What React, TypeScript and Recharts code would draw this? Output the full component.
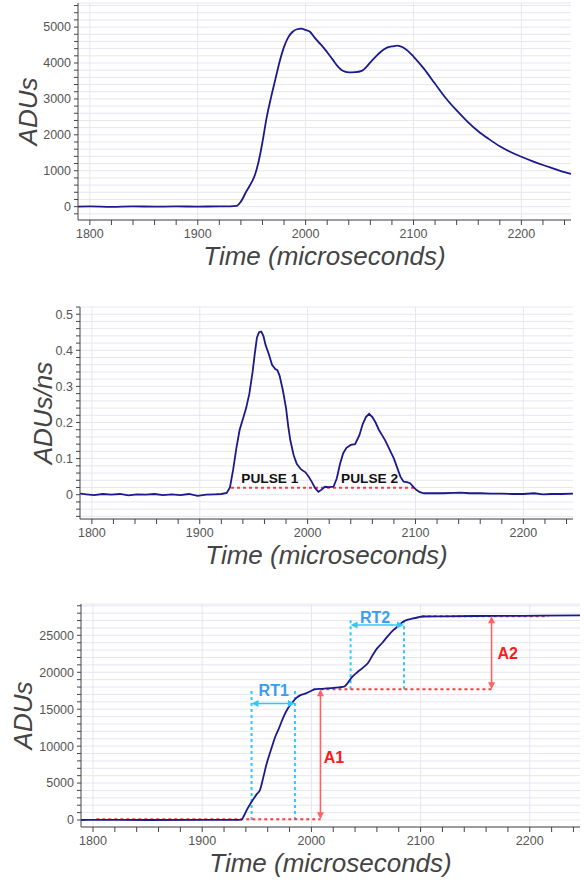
import {
  LineChart,
  Line,
  XAxis,
  YAxis,
  CartesianGrid,
  ReferenceLine,
  ReferenceDot,
} from 'recharts';

const FONT = '"Liberation Sans", Arial, Helvetica, sans-serif';
const NAVY = '#1a1a8c';
const GRID = '#e6e6f0';
const AXIS = '#444';
const RED_DOT = '#ff3b3b';
const RED_ARROW = '#ff6262';
const CYAN = '#2ec8ff';
const RT_BLUE = '#3d9bf0';

// --- top panel: waveform (ADUs)
const waveTime = [
  1789, 1800, 1820, 1840, 1860, 1880, 1900, 1920, 1930, 1936, 1940, 1945, 1950, 1953,
  1956, 1958, 1960, 1964, 1968, 1972, 1976, 1980, 1984, 1988, 1992, 1996, 2000, 2004,
  2008, 2012, 2016, 2020, 2025, 2030, 2034, 2040, 2046, 2052, 2056, 2060, 2065, 2070,
  2075, 2080, 2085, 2090, 2095, 2100, 2110, 2120, 2130, 2140, 2150, 2160, 2170, 2180,
  2190, 2200, 2210, 2220, 2230, 2240, 2246,
];
const waveAdu = [
  0, 5, -5, 8, 0, 5, 3, 8, 10, 20, 140, 420, 680, 880,
  1200, 1480, 1800, 2500, 3050, 3550, 4050, 4450, 4720, 4870, 4940, 4955, 4920, 4870,
  4720, 4580, 4450, 4300, 4100, 3900, 3790, 3740, 3745, 3780, 3880, 4020, 4180, 4320,
  4420, 4460, 4485, 4440, 4330, 4180, 3830, 3420, 3020, 2680, 2370, 2100, 1880, 1680,
  1520, 1390, 1270, 1160, 1060, 960, 910,
];

// --- middle panel: derivative (ADUs/ns)
const derivTime = [
  1789, 1795, 1802, 1810, 1818, 1826, 1834, 1842, 1850, 1858, 1866, 1874, 1882, 1890,
  1898, 1906, 1914, 1920, 1925, 1928, 1931, 1934, 1937, 1940, 1943, 1946, 1949, 1951,
  1953, 1955, 1957, 1959, 1961, 1964, 1967, 1970, 1972, 1974, 1977, 1980, 1982, 1984,
  1987, 1990, 1994, 1998, 2001, 2004, 2007, 2010, 2013, 2016, 2020, 2024, 2027, 2030,
  2033, 2036, 2040, 2044, 2048, 2051, 2054, 2057, 2060, 2063, 2066, 2069, 2072, 2076,
  2080, 2083, 2086, 2089, 2092, 2095, 2098, 2101, 2104, 2108, 2115, 2125, 2135, 2142,
  2150, 2160, 2170, 2180, 2190, 2200, 2210, 2218, 2226, 2235, 2246,
];
const derivAdu = [
  0.003, 0.001, -0.001, 0.002, 0.0, 0.002, -0.002, 0.001, 0.0, 0.002, -0.001, 0.001, -0.001, 0.002,
  -0.003, 0.0, 0.001, 0.002, 0.005, 0.02, 0.07, 0.13, 0.18, 0.21, 0.24, 0.28, 0.34, 0.39,
  0.435, 0.45, 0.452, 0.44, 0.415, 0.39, 0.36, 0.348, 0.345, 0.33, 0.29, 0.24, 0.19, 0.15,
  0.11, 0.085, 0.07, 0.062, 0.05, 0.035, 0.018, 0.008, 0.014, 0.022, 0.021, 0.022, 0.045, 0.085,
  0.115, 0.13, 0.138, 0.14, 0.165, 0.195, 0.215, 0.224, 0.215, 0.2, 0.18, 0.165, 0.15, 0.125,
  0.1, 0.075, 0.05, 0.036, 0.035, 0.032, 0.022, 0.013, 0.007, 0.004, 0.004, 0.004, 0.005, 0.006,
  0.004, 0.004, 0.003, 0.003, 0.002, 0.002, 0.004, 0.001, 0.002, 0.002, 0.003,
];

// --- bottom panel: integral (ADUs)
const integTime = [
  1789, 1800, 1850, 1900, 1930, 1936, 1938, 1941, 1945, 1950, 1953, 1956, 1959, 1963,
  1967, 1970, 1974, 1978, 1982, 1986, 1990, 1995, 2000, 2003, 2010, 2018, 2025, 2030,
  2033, 2037, 2042, 2047, 2052, 2056, 2060, 2065, 2070, 2075, 2079, 2083, 2087, 2092,
  2098, 2102, 2120, 2150, 2180, 2210, 2246,
];
const integAdu = [
  0, 10, 0, 10, 20, 50, 500, 1400, 2400, 3500, 4100, 5800, 7600, 9500,
  11300, 12300, 13800, 15000, 15800, 16500, 16900, 17150, 17500, 17700, 17760, 17850, 17950, 18050,
  18500, 19300, 20000, 20600, 21300, 22300, 23200, 24000, 24900, 25700, 26200, 26750, 27050, 27250,
  27450, 27550, 27580, 27620, 27640, 27660, 27700,
];

// tick labels
const xLabelTicks = [1800, 1900, 2000, 2100, 2200];
const y1LabelTicks = [0, 1000, 2000, 3000, 4000, 5000];
const y2LabelTicks = [0, 0.1, 0.2, 0.3, 0.4, 0.5];
const y3LabelTicks = [0, 5000, 10000, 15000, 20000, 25000];

// annotation values
const pulseLevel = 0.0194;
const pulseStart = 1929;
const pulseEnd = 2099;
const pulseLabels = [
  { name: 'PULSE 1', t: 1965, v: 0.047 },
  { name: 'PULSE 2', t: 2057.5, v: 0.047 },
];
const baseLevel = 100;
const a1Level = 17700;
const a2Level = 27600;
const a1Time = 2008.3;
const a2Time = 2165;
const rt1 = { start: 1945.2, end: 1984.9, arrow: 15770, label: 17600 };
const rt2 = { start: 2035.9, end: 2084.8, arrow: 26400, label: 27450 };

const range = (a: number, b: number, step: number) => {
  const out: number[] = [];
  for (let i = 0; a + i * step <= b + step * 1e-6; i++) out.push(+(a + i * step).toFixed(6));
  return out;
};

const xTicks = range(1800, 2240, 20);
const y1Ticks = range(-200, 5600, 200);
const y2Ticks = range(-0.06, 0.52, 0.02);
const y3Ticks = range(0, 29000, 1000);

const zip = (t: number[], v: number[]) => t.map((x, i) => ({ t: x, v: v[i] }));
const waveData = zip(waveTime, waveAdu);
const derivData = zip(derivTime, derivAdu);
const integData = zip(integTime, integAdu);

const isLabel = (labels: number[]) => (v: number) => labels.some((l) => Math.abs(l - v) < 1e-6);

const XTick = (props: any) => {
  const { x, y, payload } = props;
  if (!isLabel(xLabelTicks)(payload.value)) return <g />;
  return (
    <text x={x} y={y + 10.5} textAnchor="middle" fontSize={12.5} fill="#555" fontFamily={FONT}>
      {payload.value}
    </text>
  );
};

const makeYTick = (labels: number[]) => (props: any) => {
  const { x, y, payload } = props;
  if (!isLabel(labels)(payload.value)) return <g />;
  return (
    <text x={x - 1} y={y} dy="0.35em" textAnchor="end" fontSize={12.5} fill="#555" fontFamily={FONT}>
      {+payload.value.toFixed(2)}
    </text>
  );
};

const xTitle = (p: any) => {
  const vb = p.viewBox;
  return (
    <text
      x={vb.x + vb.width / 2}
      y={vb.y + 45}
      textAnchor="middle"
      fontSize={26}
      fontStyle="italic"
      fill={AXIS}
      fontFamily={FONT}
    >
      Time (microseconds)
    </text>
  );
};

const makeYTitle = (text: string, dx: number) => (p: any) => {
  const vb = p.viewBox;
  const bx = vb.x + dx;
  const cy = vb.y + vb.height / 2;
  return (
    <text
      x={bx}
      y={cy}
      transform={`rotate(-90, ${bx}, ${cy})`}
      textAnchor="middle"
      fontSize={26}
      fontStyle="italic"
      fill={AXIS}
      fontFamily={FONT}
    >
      {text}
    </text>
  );
};

const arrowShape = (color: string) => (p: any) => {
  const { x1, y1, x2, y2 } = p;
  const dx = x2 - x1;
  const dy = y2 - y1;
  const len = Math.hypot(dx, dy) || 1;
  const ux = dx / len;
  const uy = dy / len;
  const L = 7;
  const W = 3.5;
  const head = (x: number, y: number, sx: number, sy: number) =>
    `${x},${y} ${x - sx * L - sy * W},${y - sy * L + sx * W} ${x - sx * L + sy * W},${y - sy * L - sx * W}`;
  return (
    <g>
      <line
        x1={x1 + ux * L * 0.8}
        y1={y1 + uy * L * 0.8}
        x2={x2 - ux * L * 0.8}
        y2={y2 - uy * L * 0.8}
        stroke={color}
        strokeWidth={1.6}
      />
      <polygon points={head(x2, y2, ux, uy)} fill={color} />
      <polygon points={head(x1, y1, -ux, -uy)} fill={color} />
    </g>
  );
};

const textShape = (text: string, color: string, size: number) => (p: any) => (
  <text
    x={p.cx}
    y={p.cy}
    dy="0.36em"
    textAnchor="middle"
    fontSize={size}
    fontWeight="bold"
    fill={color}
    fontFamily={FONT}
  >
    {text}
  </text>
);

const X_DOMAIN: [number, number] = [1789, 2246];

const xAxisProps = {
  dataKey: 't',
  type: 'number' as const,
  domain: X_DOMAIN,
  allowDataOverflow: true,
  ticks: xTicks,
  interval: 0 as const,
  tickSize: 5,
  axisLine: { stroke: AXIS },
  tickLine: { stroke: AXIS },
  tick: XTick,
  height: 50,
  label: { content: xTitle },
};

const App = () => {
  return (
    <div
      style={{
        position: 'absolute',
        left: 0,
        top: 0,
        width: 585,
        height: 882,
        background: '#fff',
        fontFamily: FONT,
      }}
    >
      {/* top: waveform */}
      <div style={{ position: 'absolute', left: 0, top: 0 }}>
        <LineChart width={585} height={275} data={waveData} margin={{ top: 3, right: 14, left: 8, bottom: 5 }}>
          <CartesianGrid stroke={GRID} verticalValues={xLabelTicks} />
          <XAxis {...xAxisProps} />
          <YAxis
            type="number"
            domain={[-372, 5671]}
            allowDataOverflow
            ticks={y1Ticks}
            interval={0}
            tickSize={4}
            width={70}
            axisLine={{ stroke: AXIS }}
            tickLine={{ stroke: AXIS }}
            tick={makeYTick(y1LabelTicks)}
            label={{ content: makeYTitle('ADUs', 29) }}
          />
          <Line type="monotone" dataKey="v" stroke={NAVY} strokeWidth={1.8} dot={false} isAnimationActive={false} />
        </LineChart>
      </div>

      {/* middle: derivative */}
      <div style={{ position: 'absolute', left: 0, top: 290 }}>
        <LineChart width={585} height={285} data={derivData} margin={{ top: 17, right: 12, left: 10, bottom: 6 }}>
          <CartesianGrid stroke={GRID} verticalValues={xLabelTicks} />
          <XAxis {...xAxisProps} />
          <YAxis
            type="number"
            domain={[-0.0673, 0.52]}
            allowDataOverflow
            ticks={y2Ticks}
            interval={0}
            tickSize={4}
            width={70}
            axisLine={{ stroke: AXIS }}
            tickLine={{ stroke: AXIS }}
            tick={makeYTick(y2LabelTicks)}
            label={{ content: makeYTitle('ADUs/ns', 42) }}
          />
          <ReferenceLine
            segment={[
              { x: pulseStart, y: pulseLevel },
              { x: pulseEnd, y: pulseLevel },
            ]}
            stroke={RED_DOT}
            strokeWidth={2}
            strokeDasharray="3 3"
          />
          <Line type="linear" dataKey="v" stroke={NAVY} strokeWidth={1.8} dot={false} isAnimationActive={false} />
          {pulseLabels.map((p) => (
            <ReferenceDot key={p.name} x={p.t} y={p.v} r={0} shape={textShape(p.name, '#111', 13.7)} />
          ))}
        </LineChart>
      </div>

      {/* bottom: integral */}
      <div style={{ position: 'absolute', left: 0, top: 590 }}>
        <LineChart width={585} height={292} data={integData} margin={{ top: 14, right: 5, left: 11, bottom: 5 }}>
          <CartesianGrid stroke={GRID} verticalValues={xLabelTicks} />
          <XAxis {...xAxisProps} />
          <YAxis
            type="number"
            domain={[-949, 29243]}
            allowDataOverflow
            ticks={y3Ticks}
            interval={0}
            tickSize={4}
            width={70}
            axisLine={{ stroke: AXIS }}
            tickLine={{ stroke: AXIS }}
            tick={makeYTick(y3LabelTicks)}
            label={{ content: makeYTitle('ADUs', 20.7) }}
          />
          {/* rise time markers */}
          <ReferenceLine segment={[{ x: rt1.start, y: 0 }, { x: rt1.start, y: a1Level }]} stroke={CYAN} strokeWidth={2} strokeDasharray="3 3" />
          <ReferenceLine segment={[{ x: rt1.end, y: 0 }, { x: rt1.end, y: a1Level }]} stroke={CYAN} strokeWidth={2} strokeDasharray="3 3" />
          <ReferenceLine segment={[{ x: rt2.start, y: a1Level }, { x: rt2.start, y: 27330 }]} stroke={CYAN} strokeWidth={2} strokeDasharray="3 3" />
          <ReferenceLine segment={[{ x: rt2.end, y: a1Level }, { x: rt2.end, y: 27330 }]} stroke={CYAN} strokeWidth={2} strokeDasharray="3 3" />
          {/* amplitude levels */}
          <ReferenceLine segment={[{ x: 1803, y: baseLevel }, { x: a1Time, y: baseLevel }]} stroke={RED_DOT} strokeWidth={2} strokeDasharray="3 3" />
          <ReferenceLine segment={[{ x: a1Time, y: a1Level }, { x: a2Time, y: a1Level }]} stroke={RED_DOT} strokeWidth={2} strokeDasharray="3 3" />
          <ReferenceLine segment={[{ x: 2101, y: a2Level }, { x: 2217, y: a2Level }]} stroke={RED_DOT} strokeWidth={2} strokeDasharray="3 3" />
          <Line type="monotone" dataKey="v" stroke={NAVY} strokeWidth={1.8} dot={false} isAnimationActive={false} />
          {/* arrows */}
          <ReferenceLine segment={[{ x: rt1.start, y: rt1.arrow }, { x: rt1.end, y: rt1.arrow }]} stroke={CYAN} shape={arrowShape(CYAN)} />
          <ReferenceLine segment={[{ x: rt2.start, y: rt2.arrow }, { x: rt2.end, y: rt2.arrow }]} stroke={CYAN} shape={arrowShape(CYAN)} />
          <ReferenceLine segment={[{ x: a1Time, y: baseLevel }, { x: a1Time, y: a1Level }]} stroke={RED_ARROW} shape={arrowShape(RED_ARROW)} />
          <ReferenceLine segment={[{ x: a2Time, y: a1Level }, { x: a2Time, y: a2Level }]} stroke={RED_ARROW} shape={arrowShape(RED_ARROW)} />
          {/* labels */}
          <ReferenceDot x={1965.5} y={rt1.label} r={0} shape={textShape('RT1', RT_BLUE, 16)} />
          <ReferenceDot x={2058.4} y={rt2.label} r={0} shape={textShape('RT2', RT_BLUE, 16)} />
          <ReferenceDot x={2020.6} y={8540} r={0} shape={textShape('A1', '#ff1a1a', 16)} />
          <ReferenceDot x={2179.8} y={22550} r={0} shape={textShape('A2', '#ff1a1a', 16)} />
        </LineChart>
      </div>
    </div>
  );
};

export default App;
